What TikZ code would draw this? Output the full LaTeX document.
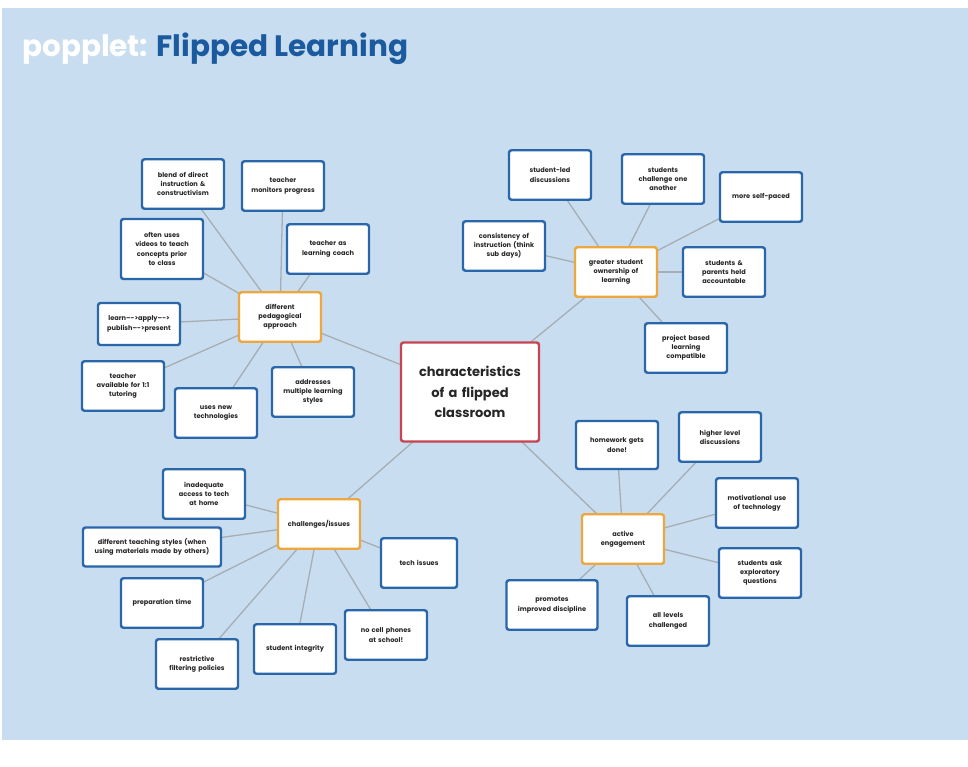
\documentclass[tikz,border=0pt]{standalone}
\usepackage{fontspec}
\setmainfont{Poppins}
\usetikzlibrary{shadows,backgrounds}
\definecolor{bgblue}{HTML}{C8DDF0}
\definecolor{leafblue}{HTML}{2A67AA}
\definecolor{hubor}{HTML}{EDA73C}
\definecolor{rootred}{HTML}{C94452}
\definecolor{linegray}{HTML}{A6AEB5}
\definecolor{titleblue}{HTML}{1B5A9E}
\pgfdeclarelayer{back}
\pgfsetlayers{back,background,main}
\begin{document}
\begin{tikzpicture}[x=1pt,y=-1pt,
  leaf/.style={draw=leafblue, line width=2.4pt, fill=white, rounded corners=2.5pt,
    text width=74pt, inner xsep=4pt, inner ysep=2pt, minimum height=49.5pt, align=center,
    font=\fontsize{6.6}{9.2}\selectfont\bfseries, text=black!85,
    drop shadow={opacity=0.25, shadow xshift=0.8pt, shadow yshift=-1pt}},
  hub/.style={leaf, draw=hubor},
  link/.style={draw=linegray, line width=1.3pt}]
\useasboundingbox (0,0) rectangle (968,766);
\begin{pgfonlayer}{back}
  \fill[white] (0,0) rectangle (968,766);
  \fill[bgblue] (2,8) rectangle (968,740);
\end{pgfonlayer}

\node[anchor=base west, inner sep=0, font=\fontsize{29.5}{29.5}\selectfont\bfseries] (title) at (22,56)
  {\textcolor{white}{popplet:} \textcolor{titleblue}{Flipped Learning}};

% root
\node[leaf, draw=rootred, text width=130pt, minimum height=99pt,
  font=\fontsize{13}{20.5}\selectfont\bfseries] (root) at (470,392)
  {characteristics\\of a flipped\\classroom};

% pedagogical cluster
\node[hub] (pedag) at (280,317) {different\\pedagogical\\approach};
\node[leaf] (blend) at (183,184) {blend of direct\\instruction \&\\constructivism};
\node[leaf] (monitor) at (283,186) {teacher\\monitors progress};
\node[leaf] (coach) at (328,249) {teacher as\\learning coach};
\node[leaf, minimum height=60pt] (often) at (162,249) {often uses\\videos to teach\\concepts prior\\to class};
\node[leaf, minimum height=42pt] (learn) at (139,324) {learn--{}-{>}apply--{}-{>}\\publish--{}-{>}present};
\node[leaf] (avail) at (123,386) {teacher\\available for 1:1\\tutoring};
\node[leaf] (usesnew) at (216,413) {uses new\\technologies};
\node[leaf] (address) at (313,392) {addresses\\multiple learning\\styles};

% ownership cluster
\node[hub] (own) at (616,272) {greater student\\ownership of\\learning};
\node[leaf] (studled) at (550,175) {student-led\\discussions};
\node[leaf] (challenge) at (663,179) {students\\challenge one\\another};
\node[leaf] (selfpaced) at (761,197) {more self-paced};
\node[leaf] (consist) at (504,246) {consistency of\\instruction (think\\sub days)};
\node[leaf] (parents) at (724,272) {students \&\\parents held\\accountable};
\node[leaf] (project) at (686,348) {project based\\learning\\compatible};

% engagement cluster
\node[hub] (active) at (623,539) {active\\engagement};
\node[leaf, minimum height=48pt] (homework) at (617,445) {homework gets\\done!};
\node[leaf] (higher) at (720,437) {higher level\\discussions};
\node[leaf] (motiv) at (757,503) {motivational use\\of technology};
\node[leaf] (explore) at (760,573) {students ask\\exploratory\\questions};
\node[leaf] (alllev) at (668,621) {all levels\\challenged};
\node[leaf, text width=83pt] (promote) at (552,605) {promotes\\improved discipline};

% challenges cluster
\node[hub] (chall) at (319,524) {challenges/issues};
\node[leaf] (inadeq) at (204,494) {inadequate\\access to tech\\at home};
\node[leaf, text width=130pt, minimum height=39pt] (diffstyle) at (152,547) {different teaching styles (when\\using materials made by others)};
\node[leaf, text width=68pt] (techiss) at (419,563) {tech issues};
\node[leaf] (prep) at (162,603) {preparation time};
\node[leaf] (restrict) at (197,664) {restrictive\\filtering policies};
\node[leaf] (integ) at (295,649) {student integrity};
\node[leaf] (nocell) at (386,635) {no cell phones\\at school!};

\begin{pgfonlayer}{background}
  \foreach \a/\b in {root/pedag, root/own, root/active, root/chall,
    pedag/blend, pedag/monitor, pedag/coach, pedag/often, pedag/learn, pedag/avail, pedag/usesnew, pedag/address,
    own/studled, own/challenge, own/selfpaced, own/consist, own/parents, own/project,
    active/homework, active/higher, active/motiv, active/explore, active/alllev, active/promote,
    chall/inadeq, chall/diffstyle, chall/techiss, chall/prep, chall/restrict, chall/integ, chall/nocell}
    \draw[link] (\a.center) -- (\b.center);
\end{pgfonlayer}
\end{tikzpicture}
\end{document}
